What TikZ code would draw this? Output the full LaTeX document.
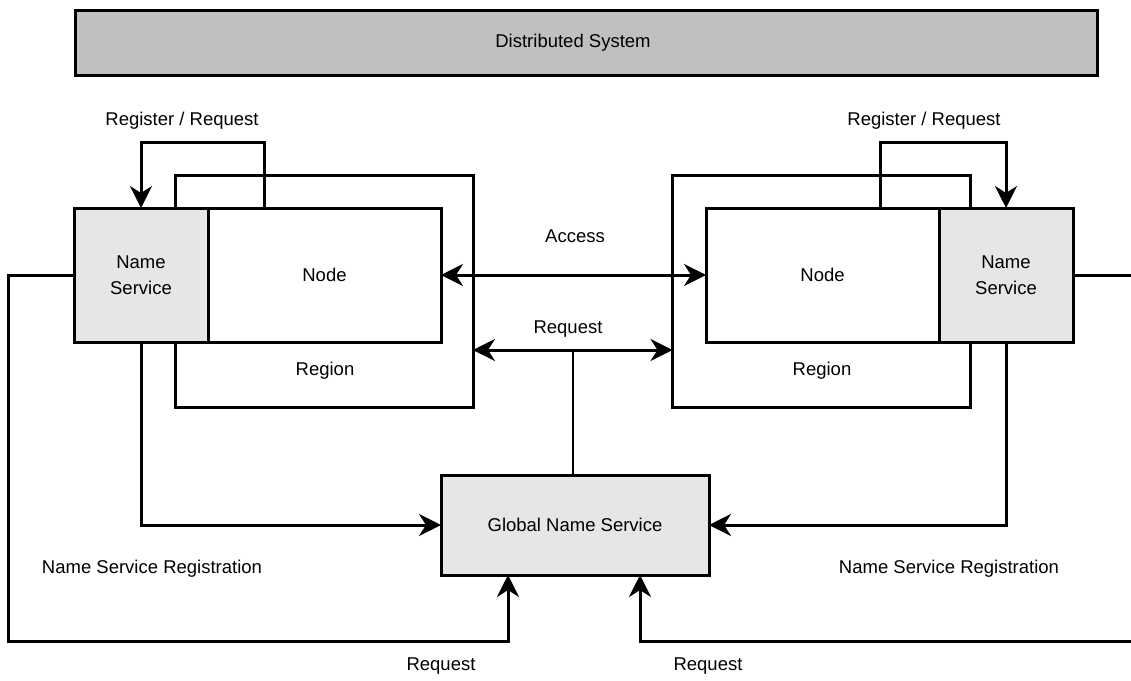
\documentclass[tikz,border=0pt]{standalone}
\usepackage{fontspec}
\setmainfont{Liberation Sans}
\usepackage{xcolor}
\usetikzlibrary{positioning,arrows.meta}

\definecolor{sysgray}{RGB}{192,192,192}
\definecolor{nsgray}{RGB}{230,230,230}

\begin{document}
\begin{tikzpicture}[
  x=1pt, y=-1pt,
  box/.style={draw, line width=3pt, outer sep=0pt, inner sep=0pt},
  nsbox/.style={box, fill=nsgray, minimum width=134pt, minimum height=134pt,
                align=center},
  nodebox/.style={box, fill=white, minimum width=233pt, minimum height=134pt},
  regionbox/.style={box, minimum width=298pt, minimum height=232pt},
  lbl/.style={inner sep=0pt},
  conn/.style={line width=3pt},
  >={Stealth[length=22pt, width=22pt, inset=7pt]},
  every node/.append style={font=\fontsize{18.5}{26}\selectfont}
]
  \useasboundingbox (0,0) rectangle (1131,680);

  \node[box, fill=sysgray, minimum width=1022pt, minimum height=65pt]
    (sys) at (586,43) {\hspace*{-26pt}Distributed System};

  % left side
  \node[regionbox] (lreg) at (324,291) {};
  \node[nsbox] (lns) at (141,275) {Name\\Service};
  \node[nodebox, right=0pt of lns] (lnode) {Node};
  \node[lbl] (lregtxt) at (325,371) {Region};

  % right side
  \node[regionbox] (rreg) at (821.5,291) {};
  \node[nodebox] (rnode) at (822.5,275) {Node};
  \node[nsbox, right=0pt of rnode] (rns) {Name\\Service};
  \node[lbl] (rregtxt) at (822,371) {Region};

  \node[nsbox, minimum width=268pt, minimum height=100pt]
    (gns) at (575,525) {Global Name Service};

  % labels
  \node[lbl] (lloop)   at (182,121) {Register / Request};
  \node[lbl] (rloop)   at (924,121) {Register / Request};
  \node[lbl] (access)  at (575,236) {Access};
  \node[lbl] (request) at (568,329) {Request};
  \node[lbl] (lnsreg)  at (152,569) {Name Service Registration};
  \node[lbl] (rnsreg)  at (949,569) {Name Service Registration};
  \node[lbl] (lreq)    at (441,666) {Request};
  \node[lbl] (rreq)    at (708,666) {Request};

  \coordinate (req) at (573,350);
  \coordinate (lbot) at (8,641);
  \coordinate (rbot) at (1136,641);

  \draw[conn, ->] ([xshift=-60pt]lnode.north) -- ++(0,-66) -| (lns.north);
  \draw[conn, ->] ([xshift=58pt]rnode.north) -- ++(0,-66) -| (rns.north);

  \draw[conn, <->] (lnode.east) -- (rnode.west);
  \draw[conn, <->] (req -| lreg.east) -- (req -| rreg.west);
  \draw[line width=2pt] (req) -- (gns.north -| req);

  \draw[conn, ->] (lns.south) |- (gns.west);
  \draw[conn, ->] (rns.south) |- (gns.east);

  \draw[conn, ->] (lns.west) -| (lbot) -| ([xshift=-67pt]gns.south);
  \draw[conn, ->] (rns.east) -| (rbot) -| ([xshift=65pt]gns.south);
\end{tikzpicture}
\end{document}
